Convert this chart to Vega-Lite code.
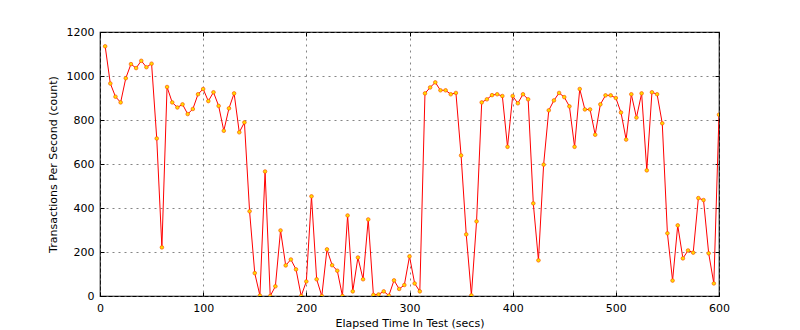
{
  "$schema": "https://vega.github.io/schema/vega-lite/v6.json",
  "autosize": "none",
  "width": 619,
  "height": 264,
  "padding": {"left": 100, "top": 32, "right": 81, "bottom": 34},
  "background": "white",
  "config": {
    "font": "DejaVu Sans",
    "view": {"stroke": "black", "strokeWidth": 1.2},
    "axis": {
      "labelFont": "DejaVu Sans",
      "titleFont": "DejaVu Sans",
      "labelFontSize": 11,
      "titleFontSize": 11,
      "titleFontWeight": "normal",
      "labelColor": "black",
      "titleColor": "black",
      "labelOverlap": false,
      "labelFlush": false,
      "domain": false,
      "tickColor": "black",
      "tickSize": -4,
      "tickWidth": 1,
      "gridColor": "#666",
      "gridDash": [2, 4],
      "gridWidth": 0.8
    }
  },
  "data": {
    "values": [
      {"t": 5, "tps": 1135}, {"t": 10, "tps": 966}, {"t": 15, "tps": 906}, {"t": 20, "tps": 880},
      {"t": 25, "tps": 990}, {"t": 30, "tps": 1054}, {"t": 35, "tps": 1036}, {"t": 40, "tps": 1069},
      {"t": 45, "tps": 1040}, {"t": 50, "tps": 1056}, {"t": 55, "tps": 716}, {"t": 60, "tps": 221},
      {"t": 65, "tps": 950}, {"t": 70, "tps": 880}, {"t": 75, "tps": 857}, {"t": 80, "tps": 871},
      {"t": 85, "tps": 827}, {"t": 90, "tps": 850}, {"t": 95, "tps": 917}, {"t": 100, "tps": 941},
      {"t": 105, "tps": 886}, {"t": 110, "tps": 926}, {"t": 115, "tps": 864}, {"t": 120, "tps": 751},
      {"t": 125, "tps": 853}, {"t": 130, "tps": 921}, {"t": 135, "tps": 744}, {"t": 140, "tps": 789},
      {"t": 145, "tps": 385}, {"t": 150, "tps": 104}, {"t": 155, "tps": 2}, {"t": 160, "tps": 566},
      {"t": 165, "tps": 0}, {"t": 170, "tps": 44}, {"t": 175, "tps": 298}, {"t": 180, "tps": 139},
      {"t": 185, "tps": 166}, {"t": 190, "tps": 121}, {"t": 195, "tps": 0}, {"t": 200, "tps": 66},
      {"t": 205, "tps": 453}, {"t": 210, "tps": 76}, {"t": 215, "tps": 0}, {"t": 220, "tps": 212},
      {"t": 225, "tps": 140}, {"t": 230, "tps": 115}, {"t": 235, "tps": 0}, {"t": 240, "tps": 366},
      {"t": 245, "tps": 21}, {"t": 250, "tps": 175}, {"t": 255, "tps": 76}, {"t": 260, "tps": 348},
      {"t": 265, "tps": 5}, {"t": 270, "tps": 7}, {"t": 275, "tps": 21}, {"t": 280, "tps": 2},
      {"t": 285, "tps": 71}, {"t": 290, "tps": 32}, {"t": 295, "tps": 50}, {"t": 300, "tps": 180},
      {"t": 305, "tps": 57}, {"t": 310, "tps": 21}, {"t": 315, "tps": 921}, {"t": 320, "tps": 948},
      {"t": 325, "tps": 971}, {"t": 330, "tps": 935}, {"t": 335, "tps": 935}, {"t": 340, "tps": 917},
      {"t": 345, "tps": 923}, {"t": 350, "tps": 639}, {"t": 355, "tps": 280}, {"t": 360, "tps": 3},
      {"t": 365, "tps": 339}, {"t": 370, "tps": 880}, {"t": 375, "tps": 894}, {"t": 380, "tps": 913},
      {"t": 385, "tps": 917}, {"t": 390, "tps": 909}, {"t": 395, "tps": 678}, {"t": 400, "tps": 909},
      {"t": 405, "tps": 876}, {"t": 410, "tps": 917}, {"t": 415, "tps": 894}, {"t": 420, "tps": 421},
      {"t": 425, "tps": 162}, {"t": 430, "tps": 597}, {"t": 435, "tps": 844}, {"t": 440, "tps": 889},
      {"t": 445, "tps": 923}, {"t": 450, "tps": 904}, {"t": 455, "tps": 862}, {"t": 460, "tps": 678},
      {"t": 465, "tps": 941}, {"t": 470, "tps": 848}, {"t": 475, "tps": 848}, {"t": 480, "tps": 733},
      {"t": 485, "tps": 871}, {"t": 490, "tps": 912}, {"t": 495, "tps": 912}, {"t": 500, "tps": 900},
      {"t": 505, "tps": 834}, {"t": 510, "tps": 711}, {"t": 515, "tps": 917}, {"t": 520, "tps": 811},
      {"t": 525, "tps": 921}, {"t": 530, "tps": 571}, {"t": 535, "tps": 926}, {"t": 540, "tps": 917},
      {"t": 545, "tps": 785}, {"t": 550, "tps": 285}, {"t": 555, "tps": 70}, {"t": 560, "tps": 321},
      {"t": 565, "tps": 171}, {"t": 570, "tps": 207}, {"t": 575, "tps": 197}, {"t": 580, "tps": 445},
      {"t": 585, "tps": 436}, {"t": 590, "tps": 194}, {"t": 595, "tps": 57}, {"t": 600, "tps": 824}
    ]
  },
  "layer": [
    {
      "mark": {"type": "line", "color": "#ff0000", "strokeWidth": 1, "clip": true},
      "encoding": {
        "x": {"field": "t", "type": "quantitative", "scale": {"domain": [0, 600], "nice": false, "zero": false},
          "title": "Elapsed Time In Test (secs)",
          "axis": {"orient": "bottom", "values": [0, 100, 200, 300, 400, 500, 600], "format": "d", "labelPadding": 10, "titlePadding": 4, "grid": true}},
        "y": {"field": "tps", "type": "quantitative", "scale": {"domain": [0, 1200], "nice": false},
          "title": "Transactions Per Second (count)",
          "axis": {"orient": "left", "values": [0, 200, 400, 600, 800, 1000, 1200], "format": "d", "labelPadding": 10, "titlePadding": 8, "grid": true}}
      }
    },
    {
      "mark": {"type": "point", "filled": true, "shape": "circle", "size": 13, "fill": "#ffdd00", "stroke": "#ff5500", "strokeWidth": 0.7, "opacity": 1, "clip": true},
      "encoding": {
        "x": {"field": "t", "type": "quantitative", "axis": {"orient": "top", "labels": false, "title": null, "grid": false, "values": [0, 100, 200, 300, 400, 500, 600]}},
        "y": {"field": "tps", "type": "quantitative", "axis": {"orient": "right", "labels": false, "title": null, "grid": false, "values": [0, 200, 400, 600, 800, 1000, 1200]}}
      }
    }
  ],
  "resolve": {"axis": {"x": "independent", "y": "independent"}}
}
